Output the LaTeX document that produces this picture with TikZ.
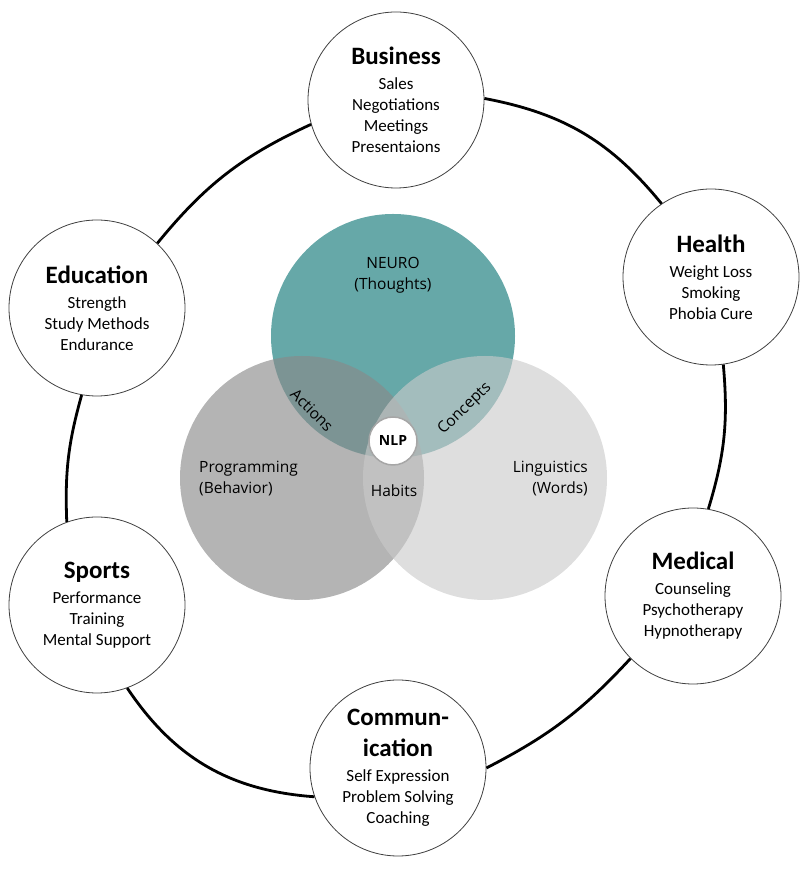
\documentclass[tikz,border=0pt]{standalone}
\usepackage{fontspec}
\setmainfont{Carlito}
\newfontfamily\vennfont{Open Sans}
\definecolor{neuroteal}{RGB}{102,168,168}
\definecolor{proggray}{RGB}{137,137,137}
\definecolor{linggray}{RGB}{202,202,202}
\newcommand{\fieldtitle}[1]{{\fontsize{25}{25}\selectfont\bfseries #1}}

\begin{document}
\begin{tikzpicture}[x=1pt,y=1pt]
    \tikzset{
        field/.style={draw=black!75, line width=0.8pt, circle, fill=white, minimum size=176pt, inner sep=0pt, align=center, font=\fontsize{17}{21}\selectfont},
        ring/.style={line width=2.8pt},
        venn/.style={circle, minimum size=244pt, inner sep=0pt},
        vennlabel/.style={font=\vennfont\fontsize{15.5}{21}\selectfont, inner sep=0pt}
    }
    \useasboundingbox (0,0) rectangle (804,876);

    \draw node[venn, fill=neuroteal] (neuro) at (393,540) {};
    \draw node[venn, fill=proggray, fill opacity=0.64] (prog) at (302,398) {};
    \draw node[venn, fill=linggray, fill opacity=0.62] (ling) at (485,398) {};
    \draw node[circle, fill=white, draw=black!35, line width=1.5pt, minimum size=48pt, inner sep=0pt, font=\vennfont\bfseries\fontsize{14}{14}\selectfont] (nlp) at (393,435) {NLP};

    \draw node[vennlabel, align=center] (neurotxt) at (393,601) {NEURO\\(Thoughts)};
    \draw node[vennlabel, align=left, anchor=west] (progtxt) at (199,397) {Programming\\(Behavior)};
    \draw node[vennlabel, align=right, anchor=east] (lingtxt) at (588,397) {Linguistics\\(Words)};
    \draw node[vennlabel, anchor=base] (habits) at (394,379) {Habits};
    \draw node[vennlabel, rotate=-45] (actions) at (312,466) {Actions};
    \draw node[vennlabel, rotate=44] (concepts) at (465,467) {Concepts};

    \draw node[field] (business) at (396,776) {\fieldtitle{Business}\\[4pt] Sales\\ Negotiations\\ Meetings\\ Presentaions};
    \draw node[field] (health) at (711,599) {\fieldtitle{Health}\\[4pt] Weight Loss\\ Smoking\\ Phobia Cure};
    \draw node[field] (medical) at (693,280) {\fieldtitle{Medical}\\[4pt] Counseling\\ Psychotherapy\\ Hypnotherapy};
    \draw node[field] (comm) at (398,108) {\fieldtitle{Commun-}\\[10pt]\fieldtitle{ication}\\[4pt] Self Expression\\ Problem Solving\\ Coaching};
    \draw node[field] (sports) at (97,271) {\fieldtitle{Sports}\\[4pt] Performance\\ Training\\ Mental Support};
    \draw node[field] (education) at (97,568) {\fieldtitle{Education}\\[4pt] Strength\\ Study Methods\\ Endurance};

    \foreach \x/\xa/\y/\ya/\ang in {%
        business/1/health/124/20,health/278/medical/80/11,medical/225/comm/0/10,%
        comm/199/sports/290/26,sports/110/education/260/9,education/47/business/196/13%
    }{
        \draw[ring] (\x.\xa) to[bend left=\ang] (\y.\ya);
    }
\end{tikzpicture}
\end{document}
